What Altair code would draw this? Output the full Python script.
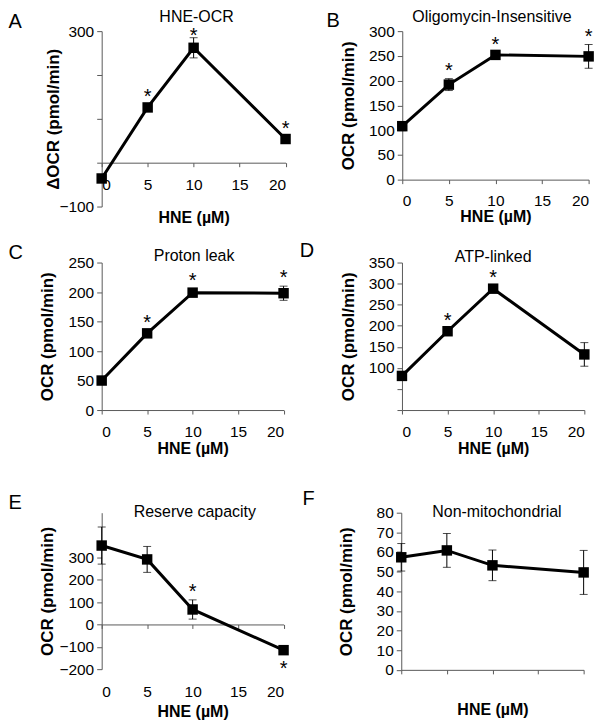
import altair as alt
import pandas as pd

FONT = "Liberation Sans"
AXIS_COLOR = "#595959"

# HNE concentrations (µM)
hne = [0, 5, 10, 20]

# A: HNE-OCR (delta OCR)
a_mean = [-36, 126, 262, 54]
a_err = [5, 5, 23, 4]
a_up = ["", "*", "", "*"]
a_near = ["", "", "*", ""]
a_dn = ["", "", "", ""]

# B: Oligomycin-Insensitive
b_mean = [108, 192, 252, 249]
b_err = [9, 12, 4, 24]
b_up = ["", "*", "*", "*"]
b_near = ["", "", "", ""]
b_dn = ["", "", "", ""]

# C: Proton leak
c_mean = [50, 130, 199, 198]
c_err = [3, 4, 7, 12]
c_up = ["", "*", "*", "*"]
c_near = ["", "", "", ""]
c_dn = ["", "", "", ""]

# D: ATP-linked
d_mean = [81, 187, 288, 132]
d_err = [4, 5, 6, 28]
d_up = ["", "*", "*", ""]
d_near = ["", "", "", ""]
d_dn = ["", "", "", ""]

# E: Reserve capacity
e_mean = [353, 291, 67, -115]
e_err = [83, 58, 43, 12]
e_up = ["", "", "*", ""]
e_near = ["", "", "", ""]
e_dn = ["", "", "", "*"]

# F: Non-mitochondrial
f_mean = [57.3, 60.8, 53.2, 49.6]
f_err = [7.0, 8.6, 7.8, 11.2]
f_up = ["", "", "", ""]
f_near = ["", "", "", ""]
f_dn = ["", "", "", ""]


def panel(letter, title, mean, err, up, near, dn, w, h, ydom, yvals, ytitle,
          letter_xy, title_xy, xoffset=0, xlabelpad=10.5, xtitle_y=38,
          xlabels=True, ytitle_x=-53.5, ylabel_expr=None):
    df = pd.DataFrame({"hne": hne, "mean": mean, "err": err,
                       "up": up, "near": near, "dn": dn})
    df["lo"] = df["mean"] - df["err"]
    df["hi"] = df["mean"] + df["err"]

    xscale = alt.Scale(domain=[0, 20], nice=False, zero=False)
    yscale = alt.Scale(domain=ydom, nice=False, zero=False)
    xaxis = alt.Axis(values=[0, 5, 10, 15, 20], title="HNE (µM)", labels=xlabels,
                     offset=xoffset, labelPadding=xlabelpad, tickSize=4,
                     titleY=xtitle_y, titleBaseline="middle", titleFontSize=16)
    ykw = dict(values=yvals, title=ytitle, tickSize=5, labelPadding=3,
               titleX=ytitle_x, titleY=h / 2, titleAngle=270,
               titleBaseline="middle", titleAlign="center", titleFontSize=17)
    if ylabel_expr:
        ykw["labelExpr"] = ylabel_expr
    yaxis = alt.Axis(**ykw)

    X = alt.X("hne:Q", scale=xscale, axis=xaxis)

    def Y(field):
        return alt.Y(field, type="quantitative", scale=yscale, axis=yaxis)

    base = alt.Chart(df)
    rule = base.mark_rule(color="black", strokeWidth=1).encode(x=X, y=Y("lo"), y2="hi:Q")
    cap_hi = base.mark_tick(color="black", orient="horizontal", size=8, thickness=1).encode(
        x=X, y=Y("hi"))
    cap_lo = base.mark_tick(color="black", orient="horizontal", size=8, thickness=1).encode(
        x=X, y=Y("lo"))
    line = base.mark_line(color="black", strokeWidth=3).encode(x=X, y=Y("mean"))
    pts = base.mark_point(shape="square", filled=True, color="black", opacity=1,
                          size=110).encode(x=X, y=Y("mean"))
    star = dict(fontSize=20, font=FONT, baseline="middle", color="black")
    s_up = base.mark_text(dy=-7.8, **star).encode(x=X, y=Y("hi"), text="up:N")
    s_near = base.mark_text(dy=-1.5, **star).encode(x=X, y=Y("hi"), text="near:N")
    s_dn = base.mark_text(dy=16, **star).encode(x=X, y=Y("lo"), text="dn:N")

    let = alt.Chart(pd.DataFrame({"t": [letter]})).mark_text(
        align="left", baseline="alphabetic", fontSize=20, font=FONT, color="black").encode(
        x=alt.value(letter_xy[0]), y=alt.value(letter_xy[1]), text="t:N")
    tit = alt.Chart(pd.DataFrame({"t": [title]})).mark_text(
        align="center", baseline="alphabetic", fontSize=16, font=FONT, color="black").encode(
        x=alt.value(title_xy[0]), y=alt.value(title_xy[1]), text="t:N")

    return alt.layer(rule, cap_hi, cap_lo, line, pts, s_up, s_near, s_dn, let, tit).properties(
        width=w, height=h)


pA = panel("A", "HNE-OCR", a_mean, a_err, a_up, a_near, a_dn, 184.5, 176, [-100, 300],
           [-100, 0, 100, 200, 300], "ΔOCR (pmol/min)", (-93.5, -3.5), (95.2, -9),
           xoffset=-44, xlabelpad=11.4, xtitle_y=55.5, ytitle_x=-48.5,
           ylabel_expr="datum.value == 300 || datum.value == -100 ? datum.label : ''")
pB = panel("B", "Oligomycin-Insensitive", b_mean, b_err, b_up, b_near, b_dn, 187, 149,
           [0, 300], [0, 50, 100, 150, 200, 250, 300], "OCR (pmol/min)",
           (-76, -4.3), (90, -9), xlabelpad=9.8, xtitle_y=36.7)
pC = panel("C", "Proton leak", c_mean, c_err, c_up, c_near, c_dn, 182.5, 148, [0, 250],
           [0, 50, 100, 150, 200, 250], "OCR (pmol/min)", (-93.5, -3.7), (92.7, -2),
           xtitle_y=38.3, ytitle_x=-54.8)
pD = panel("D", "ATP-linked", d_mean, d_err, d_up, d_near, d_dn, 183, 148, [0, 350],
           [0, 50, 100, 150, 200, 250, 300, 350], "OCR (pmol/min)", (-102.6, -5.4),
           (91.5, -1), xtitle_y=38.3, ytitle_x=-54,
           ylabel_expr="datum.value >= 100 ? datum.label : ''")
pE = panel("E", "Reserve capacity", e_mean, e_err, e_up, e_near, e_dn, 182.5, 157,
           [-200, 500], [-200, -100, 0, 100, 200, 300], "OCR (pmol/min)", (-93.5, -4),
           (93.5, 4.4), xoffset=-44.86, xlabelpad=56, xtitle_y=87.3, ytitle_x=-54.8)
pF = panel("F", "Non-mitochondrial", f_mean, f_err, f_up, f_near, f_dn, 183, 157.7, [0, 80],
           [0, 10, 20, 30, 40, 50, 60, 70, 80], "OCR (pmol/min)", (-99, -7.3), (96, 4.4),
           xlabels=False, xtitle_y=40, ytitle_x=-55)

row1 = alt.hconcat(pA, pB, spacing=34.6)
row2 = alt.hconcat(pC, pD, spacing=9.3)
row3 = alt.hconcat(pE, pF, spacing=12.6)

chart = alt.vconcat(row1, alt.vconcat(row2, row3, spacing=32), spacing=14.2).properties(
    padding=0
).configure_view(stroke=None).configure_axis(
    domainColor=AXIS_COLOR, tickColor=AXIS_COLOR, domainWidth=1, tickWidth=1,
    labelColor="black", titleColor="black", labelFont=FONT, titleFont=FONT,
    labelFontSize=15.5, titleFontWeight="bold", grid=False
)

chart.save("out.html", embed_options={"renderer": "svg", "actions": False})
